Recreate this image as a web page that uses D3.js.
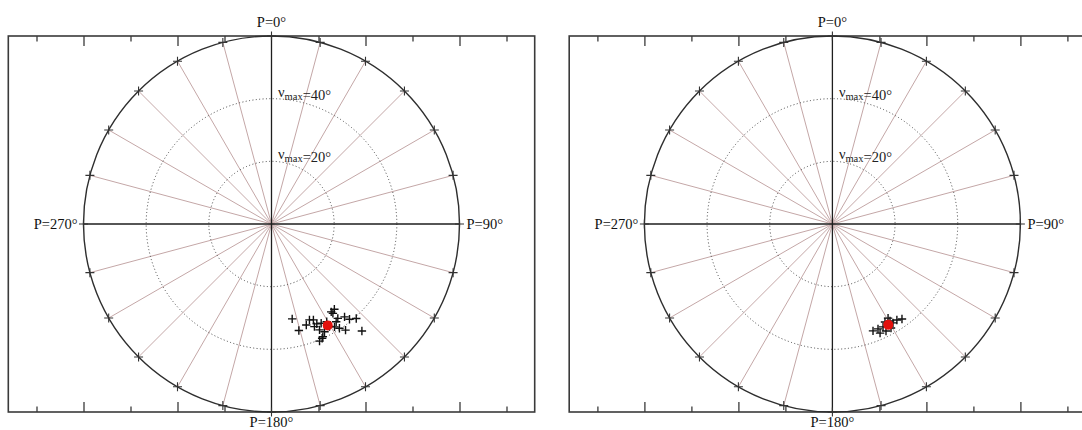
<!DOCTYPE html>
<html><head><meta charset="utf-8">
<script src="https://cdn.jsdelivr.net/npm/d3@7"></script>
<style>html,body{margin:0;padding:0;background:#fff;overflow:hidden}</style>
</head><body>
<svg id="chart" width="1082" height="430"></svg>
<script>
// ---- data ----
const spokeAngles = [0,15,30,45,60,75,90,105,120,135,150,165,180,195,210,225,240,255,270,285,300,315,330,345];
const cardinalAngles = [0, 90, 180, 270];
const cardinalLabels = ["P=0°", "P=90°", "P=180°", "P=270°"];
const ringValues = [20, 40];
const ringLabels = ["=20°", "=40°"];
const outerRing = 60;
const xTicksMajor = [-60, -30, 30, 60];
const xTicksMinor = [-75, -45, -15, 15, 45, 75];

// left panel: individual solutions (P in deg, nu_max in deg)
const leftP  = [167.7,165.6,158.4,156.4,155.6,155.6,156.1,157.7,143.6,145.5,144.9,141.8,140.7,138.1,139.8,145.1,146.9,146.5,150.5,153.8,157.3,161.0,150.5,145.8,155.5,153.4,148.5];
const leftNu = [31.0,35.1,32.9,33.4,35.0,37.1,39.9,40.4,33.8,34.6,36.8,37.7,39.3,40.5,44.7,41.3,39.7,37.4,37.6,38.3,35.5,34.1,35.8,33.9,39.5,35.4,38.5];
// right panel
const rightP  = [159.2,156.5,153.8,153.4,149.3,148.5,146.1,143.8,151.8,156.4,150.6,149.4];
const rightNu = [36.5,36.5,36.6,38.2,36.0,37.0,36.9,37.6,35.5,38.0,38.1,34.9];
// mean solutions (red)
const meanP  = [151.0, 151.0];
const meanNu = [37.0, 36.8];

// ---- layout ----
const svg = d3.select("#chart");
const R = 188;
const cy = 224;
const panelCx = [271.5, 832.4];
const k = R / outerRing;
const font = "'Liberation Serif','Times New Roman',serif";

function drawPanel(cx, pArr, nuArr, mP, mNu) {
  const x = d3.scaleLinear().domain([-84, 84]).range([cx - 84 * k, cx + 84 * k]);
  const y = d3.scaleLinear().domain([-60, 60]).range([cy + 60 * k, cy - 60 * k]);
  const rad = d3.scaleLinear().domain([0, outerRing]).range([0, R]);
  const px = (P, nu) => x(nu * Math.sin(P * Math.PI / 180));
  const py = (P, nu) => y(nu * Math.cos(P * Math.PI / 180));
  const g = svg.append("g");

  g.append("rect").attr("x", x(-84)).attr("y", y(60))
    .attr("width", x(84) - x(-84)).attr("height", y(-60) - y(60))
    .attr("fill", "#fff").attr("stroke", "#3a3a3a").attr("stroke-width", 1.6);

  const addAxis = (gen, ty, vals, size) => {
    const a = g.append("g").attr("transform", `translate(0,${ty})`)
      .call(gen(x).tickValues(vals).tickSize(-size).tickFormat(""));
    a.select(".domain").remove();
    a.selectAll(".tick line").attr("stroke", "#3a3a3a").attr("stroke-width", 1.3);
  };
  addAxis(d3.axisBottom, y(-60), xTicksMajor, 10);
  addAxis(d3.axisBottom, y(-60), xTicksMinor, 5.5);
  addAxis(d3.axisTop, y(60), xTicksMajor, 10);
  addAxis(d3.axisTop, y(60), xTicksMinor, 5.5);

  g.selectAll(".spoke").data(spokeAngles.filter(a => !cardinalAngles.includes(a)))
    .enter().append("line")
    .attr("x1", x(0)).attr("y1", y(0))
    .attr("x2", d => px(d, outerRing)).attr("y2", d => py(d, outerRing))
    .attr("stroke", "#c4a7a7").attr("stroke-width", 1);

  g.selectAll(".ring").data(ringValues).enter().append("circle")
    .attr("cx", x(0)).attr("cy", y(0)).attr("r", d => rad(d))
    .attr("fill", "none").attr("stroke", "#444").attr("stroke-width", 1)
    .attr("stroke-dasharray", "1,2.4");

  g.append("circle").attr("cx", x(0)).attr("cy", y(0)).attr("r", rad(outerRing))
    .attr("fill", "none").attr("stroke", "#2e2e2e").attr("stroke-width", 1.4);

  g.append("line").attr("x1", x(-outerRing)).attr("x2", x(outerRing))
    .attr("y1", y(0)).attr("y2", y(0)).attr("stroke", "#1e1e1e").attr("stroke-width", 1.3);
  g.append("line").attr("x1", x(0)).attr("x2", x(0))
    .attr("y1", y(outerRing)).attr("y2", y(-outerRing)).attr("stroke", "#1e1e1e").attr("stroke-width", 1.3);

  g.selectAll(".rm").data(spokeAngles).enter().append("path")
    .attr("transform", d => `translate(${px(d, outerRing)},${py(d, outerRing)})`)
    .attr("d", "M-4.5,0H4.5M0,-4.5V4.5")
    .attr("stroke", "#333").attr("stroke-width", 1.1).attr("fill", "none");

  const lab = (txt, tx, ty, anchor) => g.append("text").attr("x", tx).attr("y", ty)
    .attr("text-anchor", anchor).attr("font-family", font).attr("font-size", 14.5)
    .attr("fill", "#111").text(txt);
  lab(cardinalLabels[0], x(0), y(outerRing) - 9, "middle");
  lab(cardinalLabels[1], x(outerRing) + 7, y(0) + 4.5, "start");
  lab(cardinalLabels[2], x(0), y(-outerRing) + 15, "middle");
  lab(cardinalLabels[3], x(-outerRing) - 6, y(0) + 4.5, "end");

  ringValues.forEach((v, i) => {
    const t = g.append("text").attr("x", x(0) + 6.5).attr("y", y(v) + 1)
      .attr("font-family", font).attr("font-size", 14.5).attr("fill", "#222");
    t.append("tspan").attr("dy", -3).text("ν");
    t.append("tspan").attr("dy", 3).attr("font-size", 10.5).text("max");
    t.append("tspan").attr("dy", 0).text(ringLabels[i]);
  });

  g.selectAll(".pt").data(d3.zip(pArr, nuArr)).enter().append("path")
    .attr("transform", d => `translate(${px(d[0], d[1])},${py(d[0], d[1])})`)
    .attr("d", "M-4.2,0H4.2M0,-4.2V4.2")
    .attr("stroke", "#111").attr("stroke-width", 1.4).attr("fill", "none");

  g.append("circle").attr("cx", px(mP, mNu)).attr("cy", py(mP, mNu)).attr("r", 5)
    .attr("fill", "#e3100c");
}

drawPanel(panelCx[0], leftP, leftNu, meanP[0], meanNu[0]);
drawPanel(panelCx[1], rightP, rightNu, meanP[1], meanNu[1]);
</script>
</body></html>
